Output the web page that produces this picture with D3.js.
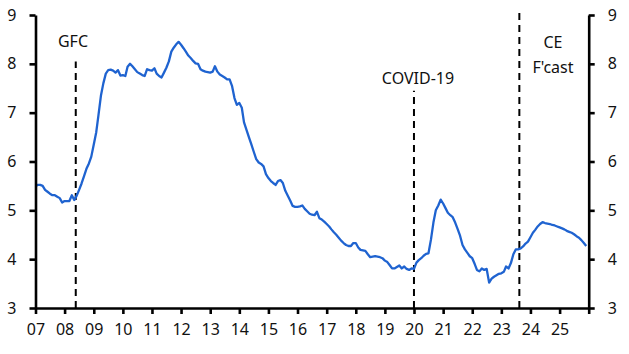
<!DOCTYPE html>
<html>
<head>
<meta charset="utf-8">
<script src="https://cdn.jsdelivr.net/npm/d3@7"></script>
<style>
  body { margin: 0; background: #fff; }
  svg text { font-family: "Noto Sans", "Open Sans", sans-serif; fill: #111; }
</style>
</head>
<body>
<svg width="629" height="354"></svg>
<script>
// Monthly readings, Jan 2007 to Dec 2025 (value per month, in order)
const startMonth = "2007-01";
const values = [
  5.50, 5.52, 5.52, 5.50, 5.42, 5.38, 5.34, 5.31, 5.31, 5.28, 5.25, 5.16,
  5.19, 5.19, 5.19, 5.31, 5.21, 5.30, 5.42, 5.55, 5.70, 5.85, 5.96, 6.10,
  6.35, 6.60, 6.95, 7.35, 7.60, 7.80, 7.87, 7.88, 7.86, 7.82, 7.87, 7.76,
  7.77, 7.75, 7.94, 8.00, 7.95, 7.89, 7.83, 7.80, 7.77, 7.75, 7.89, 7.87,
  7.86, 7.91, 7.80, 7.75, 7.72, 7.82, 7.92, 8.05, 8.25, 8.33, 8.40, 8.45,
  8.39, 8.32, 8.25, 8.17, 8.12, 8.06, 8.01, 8.00, 7.89, 7.86, 7.84, 7.83,
  7.82, 7.84, 7.95, 7.84, 7.78, 7.75, 7.72, 7.68, 7.68, 7.55, 7.30, 7.16,
  7.20, 7.10, 6.80, 6.65, 6.50, 6.35, 6.20, 6.05, 5.98, 5.95, 5.90, 5.74,
  5.66, 5.60, 5.56, 5.52, 5.60, 5.62, 5.56, 5.40, 5.30, 5.20, 5.09, 5.07,
  5.07, 5.08, 5.10, 5.03, 4.98, 4.93, 4.91, 4.90, 4.97, 4.84, 4.81, 4.77,
  4.72, 4.67, 4.61, 4.55, 4.50, 4.44, 4.38, 4.33, 4.29, 4.27, 4.27, 4.33,
  4.33, 4.24, 4.19, 4.18, 4.17, 4.10, 4.04, 4.05, 4.06, 4.05, 4.04, 4.02,
  3.97, 3.94, 3.88, 3.81, 3.81, 3.84, 3.87, 3.81, 3.85, 3.80, 3.78, 3.81,
  3.80, 3.93, 3.98, 4.02, 4.07, 4.11, 4.12, 4.40, 4.75, 5.00, 5.10, 5.22,
  5.14, 5.04, 4.95, 4.90, 4.86, 4.75, 4.62, 4.48, 4.29, 4.20, 4.13, 4.06,
  4.02, 3.90, 3.78, 3.75, 3.81, 3.78, 3.80, 3.52, 3.60, 3.64, 3.67, 3.70,
  3.71, 3.74, 3.85, 3.81, 3.92, 4.10, 4.20, 4.20, 4.22, 4.26, 4.32, 4.36,
  4.45, 4.54, 4.60, 4.67, 4.72, 4.76, 4.74, 4.73, 4.72, 4.70, 4.69, 4.67,
  4.65, 4.63, 4.61, 4.58, 4.56, 4.54, 4.51, 4.47, 4.44, 4.39, 4.33, 4.27
];

const yTicks = [3, 4, 5, 6, 7, 8, 9];
const yearTicks = d3.range(2007, 2027);

// Event markers: date of the dashed line, label lines, how high the line goes
const events = [
  { date: "2008-05-20", label: ["GFC"], top: 8.05 },
  { date: "2020-01-01", label: ["COVID-19"], top: 7.45 },
  { date: "2023-08-15", label: ["CE", "F'cast"], top: 9.05 }
];

const svg = d3.select("svg");
const mLeft = 35.5, mRight = 588.7, mTop = 15, mBottom = 308;
const fontSize = 16;

const parseMonth = d3.timeParse("%Y-%m");
const start = parseMonth(startMonth);
const data = values.map((v, i) => ({ date: d3.timeMonth.offset(start, i), value: v }));

const x = d3.scaleTime()
  .domain([new Date(2007, 0, 1), new Date(2026, 0, 1)])
  .range([mLeft, mRight]);

const y = d3.scaleLinear()
  .domain([3, 9])
  .range([mBottom, mTop]);

// Dashed event lines and their labels
const parseDay = d3.timeParse("%Y-%m-%d");
events.forEach(e => {
  const ex = x(parseDay(e.date));
  svg.append("line")
    .attr("x1", ex).attr("x2", ex)
    .attr("y1", y(3)).attr("y2", y(e.top))
    .attr("stroke", "#000")
    .attr("stroke-width", 2)
    .attr("stroke-dasharray", "7,5");
});

svg.append("text").attr("x", 73).attr("y", 47)
  .attr("text-anchor", "middle").attr("font-size", fontSize).text(events[0].label[0]);
svg.append("text").attr("x", 418).attr("y", 84)
  .attr("text-anchor", "middle").attr("font-size", fontSize).text(events[1].label[0]);
svg.append("text").attr("x", 553).attr("y", 48)
  .attr("text-anchor", "middle").attr("font-size", fontSize).text(events[2].label[0]);
svg.append("text").attr("x", 553).attr("y", 73)
  .attr("text-anchor", "middle").attr("font-size", fontSize).text(events[2].label[1]);

// The series line
const line = d3.line()
  .x(d => x(d.date))
  .y(d => y(d.value));

svg.append("path")
  .datum(data)
  .attr("fill", "none")
  .attr("stroke", "#1f63d0")
  .attr("stroke-width", 2.3)
  .attr("stroke-linejoin", "round")
  .attr("d", line);

// Axes
const xAxis = d3.axisBottom(x)
  .tickValues(yearTicks.map(yr => new Date(yr, 0, 1)))
  .tickSize(6)
  .tickPadding(10)
  .tickFormat(d => d.getFullYear() < 2026 ? d3.timeFormat("%y")(d) : "");

const yLeft = d3.axisLeft(y).tickValues(yTicks).tickSize(6).tickPadding(13)
  .tickFormat(d3.format("d"));
const yRight = d3.axisRight(y).tickValues(yTicks).tickSize(6).tickPadding(13)
  .tickFormat(d3.format("d"));

function styleAxis(g) {
  g.select(".domain").attr("stroke", "#000").attr("stroke-width", 2.6);
  g.selectAll(".tick line").attr("stroke", "#000").attr("stroke-width", 2.6);
  g.selectAll(".tick text").attr("font-size", fontSize).attr("fill", "#111")
    .attr("font-family", "'Noto Sans', 'Open Sans', sans-serif");
}

svg.append("g").attr("transform", `translate(0,${mBottom})`)
  .call(xAxis.tickSizeOuter(0)).call(styleAxis);
svg.append("g").attr("transform", `translate(${mLeft},0)`)
  .call(yLeft.tickSizeOuter(0)).call(styleAxis);
svg.append("g").attr("transform", `translate(${mRight},0)`)
  .call(yRight.tickSizeOuter(0)).call(styleAxis);
</script>
</body>
</html>
